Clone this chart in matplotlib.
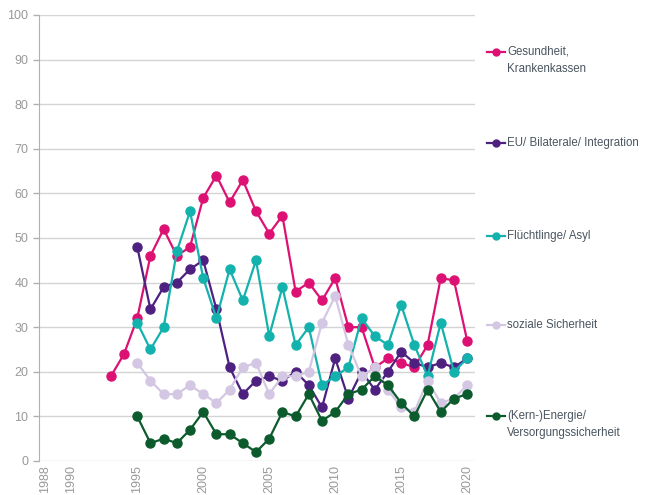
import matplotlib.pyplot as plt
from matplotlib.lines import Line2D

plt.rcParams['font.family'] = ['Liberation Sans', 'DejaVu Sans']

years_gesundheit = list(range(1993, 2021))
gesundheit = [19, 24, 32, 46, 52, 46, 48, 59, 64, 58, 63, 56, 51, 55,
              38, 40, 36, 41, 30, 30, 21, 23, 22, 21, 26, 41, 40.5, 27]

years = list(range(1995, 2021))
eu = [48, 34, 39, 40, 43, 45, 34, 21, 15, 18, 19, 18, 20, 17,
      12, 23, 14, 20, 16, 20, 24.5, 22, 21, 22, 21, 23]
fluechtlinge = [31, 25, 30, 47, 56, 41, 32, 43, 36, 45, 28, 39, 26, 30,
                17, 19, 21, 32, 28, 26, 35, 26, 19, 31, 20, 23]
sozial = [22, 18, 15, 15, 17, 15, 13, 16, 21, 22, 15, 19, 19, 20,
          31, 37, 26, 19, 21, 16, 12, 11, 18, 13, 14, 17]
energie = [10, 4, 5, 4, 7, 11, 6, 6, 4, 2, 5, 11, 10, 15,
           9, 11, 15, 16, 19, 17, 13, 10, 16, 11, 14, 15]

labels = ['Gesundheit,\nKrankenkassen', 'EU/ Bilaterale/ Integration',
          'Flüchtlinge/ Asyl', 'soziale Sicherheit',
          '(Kern-)Energie/\nVersorgungssicherheit']
colors = ['#dc1173', '#4e2180', '#13b2ad', '#d3c7e3', '#0b5b2d']
xticks = [1988, 1990, 1995, 2000, 2005, 2010, 2015, 2020]

fig = plt.figure(figsize=(6.49, 4.95), dpi=100)
ax = fig.add_axes([0.060, 0.0687, 0.672, 0.901])

series = [(years_gesundheit, gesundheit), (years, eu), (years, fluechtlinge),
          (years, sozial), (years, energie)]
for (xs, ys), c in zip(series, colors):
    ax.plot(xs, ys, color=c, lw=1.6, marker='o', ms=6.5, zorder=3)

ax.set_xlim(1987.55, 2020.6)
ax.set_ylim(0, 100)
ax.set_yticks(range(0, 101, 10))
ax.set_xticks(xticks)
ax.set_xticklabels([str(x) for x in xticks], rotation=90)
ax.grid(axis='y', color='#d4d4d4', lw=1)
ax.set_axisbelow(True)
for s in ['top', 'right', 'bottom']:
    ax.spines[s].set_visible(False)
ax.spines['left'].set_color('#b0b0b0')
ax.tick_params(axis='y', colors='#b0b0b0', labelcolor='#999999',
               labelsize=9, length=4, width=1)
ax.tick_params(axis='x', length=0, labelcolor='#999999', labelsize=9, pad=3)

# legend on the right
legend_y = [52, 143, 236, 325, 416]
for lab, c, py in zip(labels, colors, legend_y):
    fy = 1 - py / 495
    fig.add_artist(Line2D([487 / 649, 505 / 649], [fy, fy], color=c, lw=1.6,
                          transform=fig.transFigure))
    fig.add_artist(Line2D([496 / 649], [fy], color=c, marker='o', ms=5,
                          transform=fig.transFigure))
    fig.text(507 / 649, fy + 6 / 495, lab, va='top', ha='left', fontsize=8.3,
             color='#4a5560', linespacing=1.55)

fig.savefig('out.png', dpi=100)
